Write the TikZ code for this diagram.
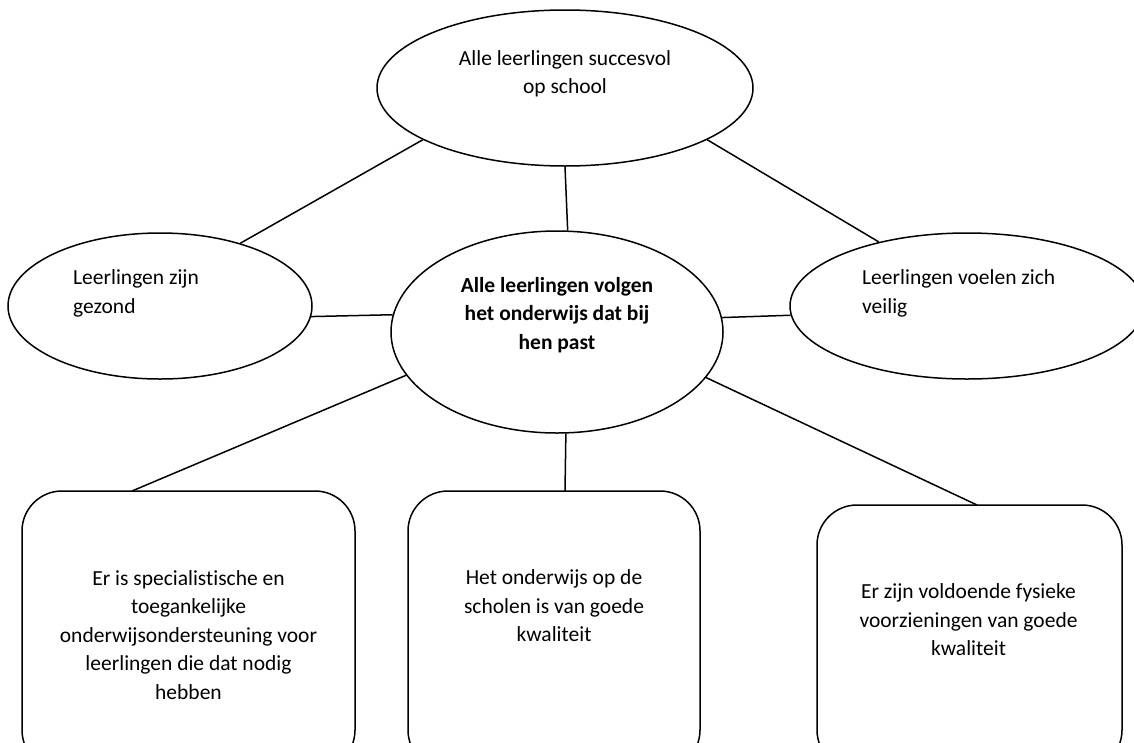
\documentclass[tikz,border=0pt]{standalone}
\usepackage{fontspec}
\setmainfont[Ligatures=NoCommon]{Carlito}
\usetikzlibrary{shapes.geometric}
\begin{document}
\begin{tikzpicture}[x=1pt,y=-1pt,
  conn/.style={line width=1.5pt},
  oval/.style={draw, line width=1.5pt, ellipse, inner sep=0pt},
  box/.style={draw, line width=1.5pt, rounded corners=40pt, inner sep=0pt},
  txt/.style={font=\fontsize{21.5}{28.5}\selectfont, inner sep=0pt},
]
\useasboundingbox (0,0) rectangle (1134,742);
\clip (0,0) rectangle (1134,742);
% ellipses
\node[oval, minimum width=376pt, minimum height=156pt] (T) at (565,88) {};
\node[oval, minimum width=304pt, minimum height=146pt] (L) at (160,306) {};
\node[oval, minimum width=354pt, minimum height=146pt] (R) at (967,306) {};
\node[oval, minimum width=332pt, minimum height=202pt] (C) at (557,332) {};
% boxes
\node[box, minimum width=333pt, minimum height=279pt] (B1) at (188.5,630.5) {};
\node[box, minimum width=292pt, minimum height=279pt] (B2) at (554,630.5) {};
\node[box, minimum width=305pt, minimum height=265pt] (B3) at (969.5,637.5) {};
% texts
\node[txt, align=center] (tT) at (565,74) {Alle leerlingen succesvol\\op school};
\node[txt, align=left, anchor=west] (tL) at (73,293.5) {Leerlingen zijn\\gezond};
\node[txt, align=left, anchor=west] (tR) at (862,293.5) {Leerlingen voelen zich\\veilig};
\node[txt, align=center, font=\fontsize{21.5}{28.5}\selectfont\bfseries] (tC) at (557,315) {Alle leerlingen volgen\\het onderwijs dat bij\\hen past};
\node[txt, align=center] (tB1) at (188.5,635) {Er is specialistische en\\toegankelijke\\onderwijsondersteuning voor\\leerlingen die dat nodig\\hebben};
\node[txt, align=center] (tB2) at (554,606) {Het onderwijs op de\\scholen is van goede\\kwaliteit};
\node[txt, align=center] (tB3) at (968.5,620) {Er zijn voldoende fysieke\\voorzieningen van goede\\kwaliteit};
% connectors
\coordinate (b1top) at (132,491);
\coordinate (b2top) at (565,491);
\coordinate (b3top) at (977,505);
\draw[conn] (T.200.5) -- (L.38.2);
\draw[conn] (T.270) -- (C.84.3);
\draw[conn] (T.340) -- (R.144.3);
\draw[conn] (L.356.6) -- (C.174.2);
\draw[conn] (C.5.5) -- (R.183.2);
\draw[conn] (C.196.5) -- (b1top);
\draw[conn] (C.275) -- (b2top);
\draw[conn] (C.343) -- (b3top);
\end{tikzpicture}
\end{document}
